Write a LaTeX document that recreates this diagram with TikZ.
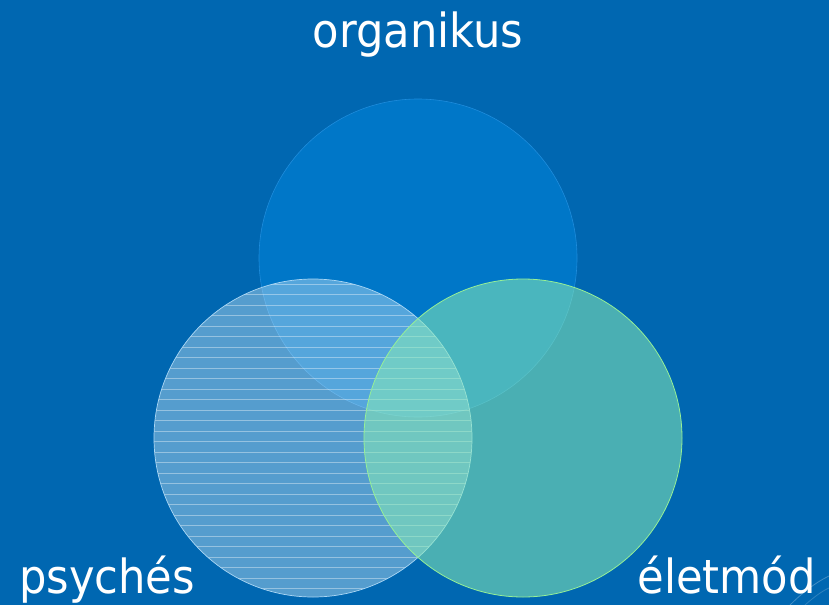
\documentclass[tikz,border=0pt]{standalone}
\usepackage{fontspec}
\setmainfont[FakeStretch=0.92]{DejaVu Sans}
\definecolor{slidebg}{RGB}{0,103,177}
\definecolor{orgfill}{RGB}{0,119,200}
\definecolor{orgedge}{RGB}{30,140,220}
\definecolor{psyfill}{RGB}{225,245,255}
\definecolor{psyedge}{RGB}{170,215,245}
\definecolor{eletfill}{RGB}{135,235,182}
\definecolor{eletedge}{RGB}{150,240,150}
\tikzset{
  label text/.style={text=white, inner sep=0pt, font=\fontsize{47}{47}\selectfont},
}
\begin{document}
\begin{tikzpicture}[x=1pt,y=-1pt]
    \fill[slidebg] (0,0) rectangle (829,605);
    \useasboundingbox (0,0) rectangle (829,605);

    % faint slide decoration
    \draw[white, opacity=0.25, line width=0.8pt] (790,605) .. controls (810,585) and (825,578) .. (829,576);
    \draw[white, opacity=0.18, line width=0.8pt] (805,605) .. controls (815,596) and (824,590) .. (829,588);

    \coordinate (orgc) at (418,258);
    \coordinate (psyc) at (313,438);
    \coordinate (eletc) at (523,438);

    \draw[orgedge, fill=orgfill, line width=0.6pt] (orgc) circle [radius=159];

    \fill[psyfill, fill opacity=0.38] (psyc) circle [radius=159];
    \begin{scope}
      \clip (psyc) circle [radius=159];
      \foreach \y in {284,294.5,...,600}
        \draw[white, opacity=0.38, line width=0.8pt] (150,\y) -- (480,\y);
    \end{scope}
    \draw[psyedge, line width=0.7pt] (psyc) circle [radius=159];

    \draw[eletedge, fill=eletfill, fill opacity=0.55, line width=0.8pt] (eletc) circle [radius=159];

    \node[label text, anchor=base] (org) at (418,47) {organikus};
    \node[label text, anchor=base west] (psy) at (19,593) {psychés};
    \node[label text, anchor=base east] (elet) at (816,593) {életmód};
\end{tikzpicture}
\end{document}
